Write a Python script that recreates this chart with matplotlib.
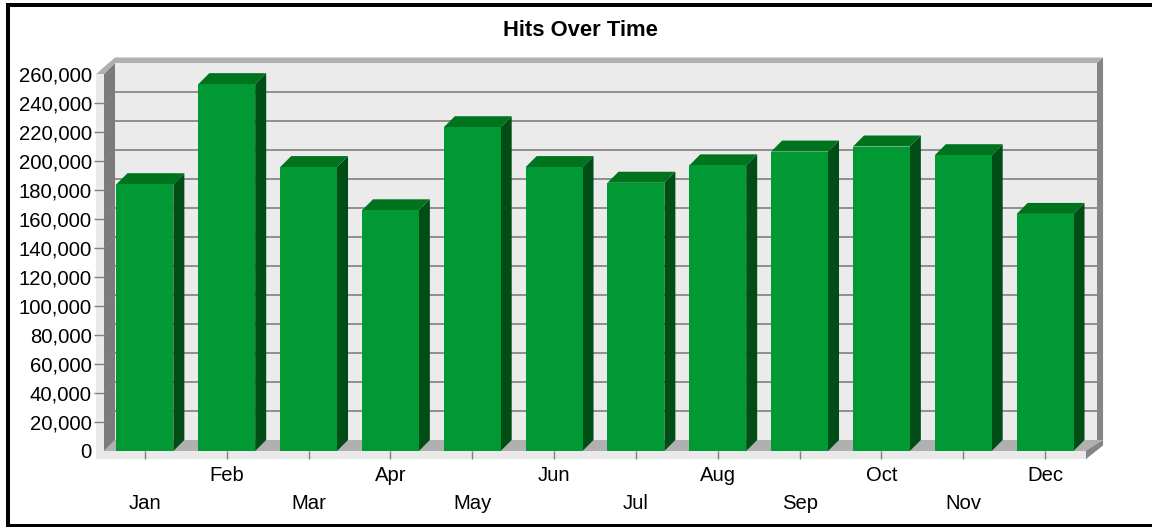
import numpy as np
import matplotlib.pyplot as plt
from matplotlib.patches import Polygon, Rectangle

months = ['Jan', 'Feb', 'Mar', 'Apr', 'May', 'Jun', 'Jul', 'Aug', 'Sep', 'Oct', 'Nov', 'Dec']
hits = [184000, 253000, 195800, 166000, 223300, 195800, 185000, 197000, 206500, 210000, 204000, 163500]
yticks = list(range(0, 280000, 20000))

W, H = 1152, 527
plt.rcParams['font.family'] = ['Liberation Sans', 'DejaVu Sans']
plt.rcParams['font.size'] = 14.6

fig = plt.figure(figsize=(W / 100, H / 100), dpi=100)

# l'axe correspond au plan avant du graphique (en pixels de l'image)
x0, x1, y0, y1 = 104, 1086, 451, 74
ax = fig.add_axes([x0 / W, 1 - y0 / H, (x1 - x0) / W, (y0 - y1) / H])
ax.set_xlim(-0.5, 11.5)
ax.set_ylim(0, 260000)
ax.patch.set_visible(False)
ax.set_axisbelow(False)
for s in ax.spines.values():
    s.set_visible(False)

# profondeur 3D et bandes avant, exprimees en unites de donnees
px = 12 / (x1 - x0)
py = 260000 / (y0 - y1)
dx = 11 * px
dy = 11 * py
strip_x = 8 * px
strip_y = 8 * py
left, right = -0.5, 11.5
top = 260000

def poly(pts, color, z):
    ax.add_patch(Polygon(pts, closed=True, facecolor=color, edgecolor='none', zorder=z, clip_on=False))

# mur du fond, sol, plafond et cotes
poly([(left + dx, dy), (right + dx, dy), (right + dx, top + dy), (left + dx, top + dy)], '#ebebeb', 1)
poly([(left, 0), (left + dx, dy), (left + dx, top + dy), (left, top)], '#7b7b7b', 1.5)
poly([(left - strip_x, -strip_y), (right, -strip_y), (right + dx + 6 * px, dy), (left + dx, dy)], '#b0b0b0', 1.2)
poly([(left - strip_x, top), (left + dx, top + dy + 0.5 * dy), (right + 1.55 * dx, top + 1.5 * dy), (right + dx, top + dy), (left + dx, top + dy), (left, top)], '#b0b0b0', 1.6)
poly([(right + dx, dy), (right + 1.55 * dx, dy), (right + 1.55 * dx, top + 1.5 * dy), (right + dx, top + dy)], '#858585', 1.6)
poly([(right, -strip_y), (right + 1.55 * dx, 0.5 * dy), (right + 1.55 * dx, dy), (right, 0)], '#858585', 1.7)

# bandes claires a l'avant
poly([(left - strip_x, -strip_y), (left, -strip_y), (left, top), (left - strip_x, top)], '#e9e9e9', 2)
poly([(left - strip_x, -strip_y), (right, -strip_y), (right, 0), (left - strip_x, 0)], '#e9e9e9', 2)

# grille : diagonale sur le mur gauche puis horizontale sur le fond
for v in yticks[1:-1]:
    ax.plot([left, left + dx, right + dx], [v, v + dy, v + dy], color='#808080', lw=1.2, zorder=1.8,
            solid_capstyle='butt', clip_on=False)

# barres
w = 0.695
for i, v in enumerate(hits):
    a, b = i - w / 2, i + w / 2
    ax.add_patch(Rectangle((a, 0), w, v, facecolor='#009933', edgecolor='none', zorder=4))
    poly([(b, 0), (b + dx, dy), (b + dx, v + dy), (b, v)], '#004d15', 3.5)
    poly([(a, v), (b, v), (b + dx, v + dy), (a + dx, v + dy)], '#00731f', 3.5)

ax.set_yticks(yticks)
ax.set_yticklabels([f'{v:,}' for v in yticks])
ax.tick_params(axis='y', length=7.2, width=1, color='#808080', pad=1.5, labelcolor='black')
for i in (0, len(yticks) - 1):
    ax.yaxis.get_major_ticks()[i].tick1line.set_visible(False)

ax.set_xticks(range(len(months)))
ax.set_xticklabels(months)
ax.tick_params(axis='x', length=5.8, width=1, color='#808080', labelcolor='black')
for i, t in enumerate(ax.xaxis.get_major_ticks()):
    t.set_pad(25 if i % 2 == 0 else 5)

fig.text(580 / W, 1 - 30 / H, 'Hits Over Time', ha='center', va='center', fontweight='bold', fontsize=15.8)

# cadre noir : haut, gauche et bas seulement
for (bx, by, bw, bh) in [(6, 3, W - 6, 4), (6, 3, 4, H - 3), (6, H - 3, W - 6, 3)]:
    fig.add_artist(Rectangle((bx / W, 1 - (by + bh) / H), bw / W, bh / H, transform=fig.transFigure,
                             facecolor='black', edgecolor='none'))

fig.savefig('out.png', dpi=100)
